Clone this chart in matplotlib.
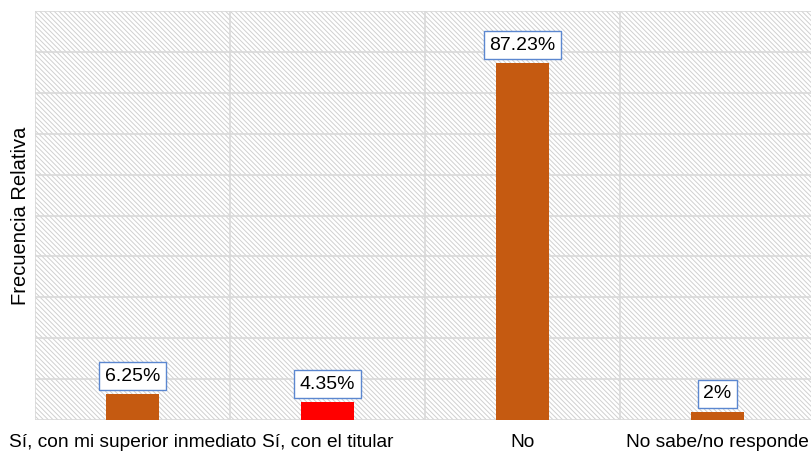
import numpy as np
import matplotlib.pyplot as plt
from matplotlib.patches import Rectangle

# datos
categorias = ["Sí, con mi superior inmediato", "Sí, con el titular", "No", "No sabe/no responde"]
valores = [6.25, 4.35, 87.23, 2]
etiquetas = ["6.25%", "4.35%", "87.23%", "2%"]
colores = ["#C55A11", "#FF0000", "#C55A11", "#C55A11"]

plt.rcParams['font.family'] = ['Liberation Sans', 'DejaVu Sans']
plt.rcParams['hatch.linewidth'] = 0.7
plt.rcParams['hatch.color'] = '#d0d0d0'

fig = plt.figure(figsize=(8.11, 4.51), dpi=100)
ax = fig.add_axes([35 / 811, 31 / 451, 780 / 811, 409 / 451])

# fondo rayado
ax.add_patch(Rectangle((0, 0), 1, 1, transform=ax.transAxes, facecolor='white',
                       edgecolor='#d0d0d0', hatch='\\' * 7, linewidth=0, zorder=0))

x = np.arange(len(categorias))
ax.bar(x, valores, width=0.27, color=colores, zorder=3)

for xi, v, t in zip(x, valores, etiquetas):
    ax.annotate(t, (xi, v), xytext=(0, 18), textcoords='offset pixels',
                ha='center', va='center', fontsize=14, zorder=5,
                bbox=dict(boxstyle='square,pad=0.28', facecolor='white', edgecolor='#5b87d0', linewidth=1))

ax.set_xlim(-0.5, len(categorias) - 0.5)
ax.set_ylim(0, 100)
ax.set_yticks(np.arange(0, 101, 10))
ax.set_yticklabels([])
ax.set_xticks(x)
ax.set_xticklabels(categorias, fontsize=13.8)
ax.set_xticks(np.arange(-0.5, len(categorias), 1), minor=True)
ax.grid(True, which='major', axis='y', color='#d9d9d9', linewidth=1.2, zorder=1)
ax.grid(True, which='minor', axis='x', color='#d9d9d9', linewidth=1.2, zorder=1)
ax.tick_params(axis='both', which='both', length=0)
ax.tick_params(axis='x', pad=10)
for s in ax.spines.values():
    s.set_visible(False)
ax.set_ylabel("Frecuencia Relativa", fontsize=14.5, labelpad=0)

fig.savefig("out.png", dpi=100)
